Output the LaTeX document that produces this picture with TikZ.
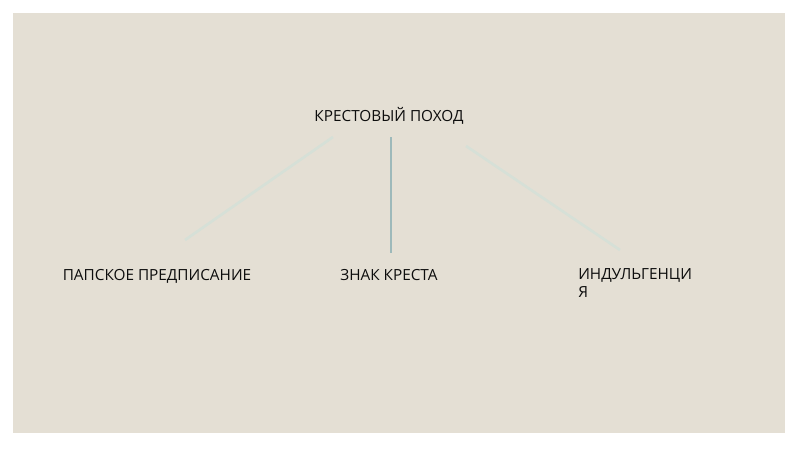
\documentclass[tikz,border=0pt]{standalone}
\usepackage{fontspec}
\setmainfont{Open Sans}
\usepackage{xcolor}
\usepackage{tikz}

\definecolor{paper}{HTML}{E4DFD4}
\definecolor{linkmain}{HTML}{9DB9BA}
\definecolor{linkfaint}{HTML}{D6E0D7}
\definecolor{ink}{HTML}{0D0D0D}

\begin{document}
\begin{tikzpicture}[x=0.75pt, y=-0.75pt,
  term/.style={inner sep=0pt, text=ink, font=\fontsize{11.5}{13.5}\selectfont},
  link/.style={linkmain, line width=1pt},
  faintlink/.style={linkfaint, line width=2pt}]
\useasboundingbox (0,0) rectangle (800,449);
% BACKGROUND
  \fill[white] (0,0) rectangle (800,449);
  \fill[paper] (13,13) rectangle (785,433);

% TERMS
  \node[term, anchor=base] (crusade) at (389,122) {КРЕСТОВЫЙ ПОХОД};
  \node[term, anchor=base] (papal)   at (157,280) {ПАПСКОЕ ПРЕДПИСАНИЕ};
  \node[term, anchor=base] (sign)    at (389,280) {ЗНАК КРЕСТА};
  \node[term, anchor=north west, align=left] (indulg) at (578,268) {ИНДУЛЬГЕНЦИ\\Я};

% free ends of the links
  \coordinate (crusade-l) at (333,137);
  \coordinate (crusade-r) at (466,146);
  \coordinate (papal-t)   at (185,240);
  \coordinate (indulg-t)  at (620,250);

% LINKS
  \draw[link] (crusade.south -| sign.north) ++(2,12) -- ([xshift=1.5pt, yshift=12pt]sign.north);
  \draw[faintlink] (crusade-l) -- (papal-t);
  \draw[faintlink] (crusade-r) -- (indulg-t);

\end{tikzpicture}
\end{document}
